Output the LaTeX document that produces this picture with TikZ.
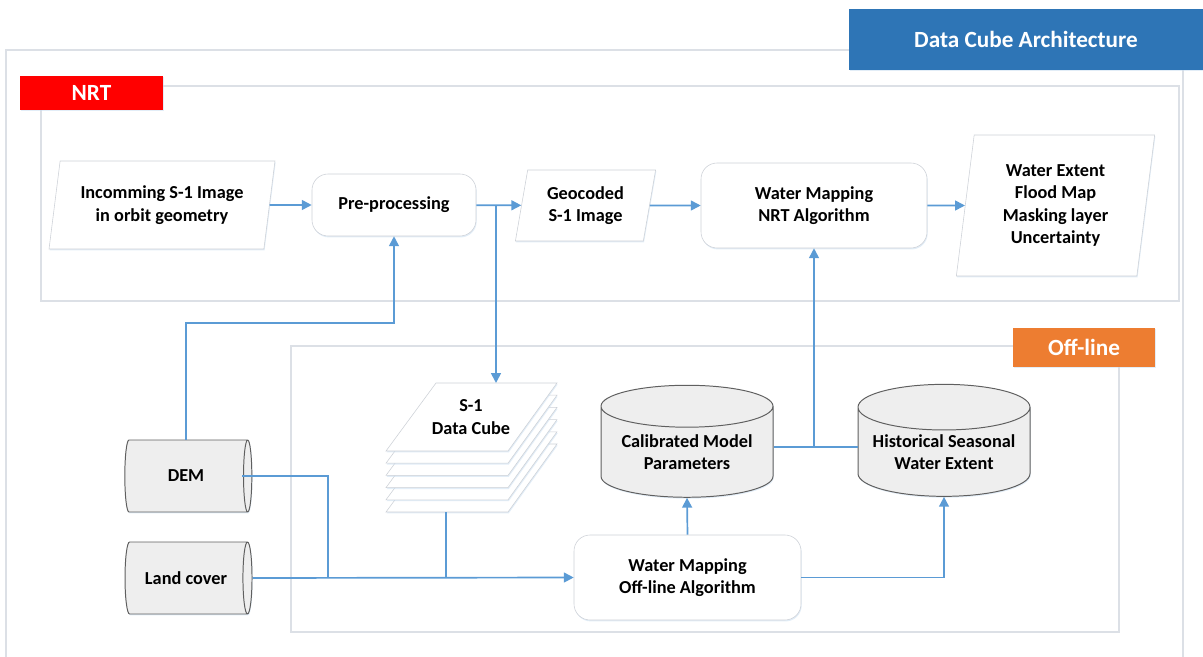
\documentclass[tikz,border=0pt]{standalone}
\usepackage{fontspec}
\setmainfont{Carlito}
\usetikzlibrary{shapes.geometric,arrows.meta,shadows}
\definecolor{lineblue}{RGB}{91,155,213}
\definecolor{titleblue}{RGB}{46,117,182}
\definecolor{nrtred}{RGB}{255,0,0}
\definecolor{offorange}{RGB}{237,125,49}
\definecolor{framegray}{RGB}{220,224,230}
\definecolor{boxgray}{RGB}{205,209,215}
\definecolor{dbfill}{RGB}{238,238,238}
\definecolor{dbline}{RGB}{95,95,95}
\newdimen\px \px=0.025cm
\tikzset{
  every node/.style={font=\bfseries\fontsize{13}{16}\selectfont, align=center, inner sep=0pt},
  frame/.style={draw=framegray, line width=0.8pt},
  shade/.style={drop shadow={shadow xshift=0.5pt, shadow yshift=-1pt, fill=lineblue!35, opacity=0.5}},
  tag/.style={shade, text=white, font=\bfseries\fontsize{16.5}{18}\selectfont},
  proc/.style={shade, draw=boxgray, rounded corners=0.4cm, fill=white},
  data/.style={shade, trapezium, trapezium stretches=true, draw=boxgray, fill=white},
  db/.style={shade, cylinder, draw=dbline, fill=dbfill, line width=0.7pt},
  link/.style={draw=lineblue, line width=1.2pt},
  arr/.style={link, -{Triangle[length=7pt,width=7pt]}}
}
\begin{document}
\begin{tikzpicture}[x=0.025cm,y=-0.025cm]
\useasboundingbox (0,0) rectangle (1203,657);
\draw[frame] (6,657) -- (6,50) -- (1183,50) -- (1183,657);
\draw[frame] (41,86) rectangle (1179,301);
\draw[frame] (291,346) rectangle (1119,632);

\node[tag, fill=titleblue, minimum width=354\px, minimum height=61\px] (title) at (1026,39.5) {Data Cube Architecture};
\node[tag, fill=nrtred, minimum width=143\px, minimum height=34\px] (nrt) at (91.5,93) {NRT};
\node[tag, fill=offorange, minimum width=142\px, minimum height=39\px] (off) at (1084,347.5) {Off-line};

\node[data, trapezium left angle=77, trapezium right angle=103, minimum width=226\px, minimum height=88\px] (in) at (162,205) {Incomming S-1 Image\\in orbit geometry};
\node[proc, minimum width=164\px, minimum height=62\px] (pre) at (394,205) {Pre-processing};
\node[data, trapezium left angle=78, trapezium right angle=102, minimum width=141\px, minimum height=71\px] (geo) at (585.5,205.5) {Geocoded\\S-1 Image};
\node[proc, minimum width=226\px, minimum height=85\px] (wmn) at (814,205.5) {Water Mapping\\NRT Algorithm};
\node[data, trapezium left angle=82, trapezium right angle=98, minimum width=199\px, minimum height=141\px] (out) at (1055.5,205.5) {Water Extent\\Flood Map\\Masking layer\\Uncertainty};

\node[db, aspect=0.7, minimum width=72\px, minimum height=127\px] (dem) at (186,476) {DEM};
\node[db, aspect=0.7, minimum width=72\px, minimum height=127\px] (lc) at (186,578) {Land cover};

\foreach \k in {5,4,...,0}
  \draw[shade, draw=boxgray, fill=white] (436,383+12.2*\k) -- (557,383+12.2*\k) -- (508,451+12.2*\k) -- (386,451+12.2*\k) -- cycle;
\node (cube) at (471,417) {S-1\\Data Cube};
\coordinate (cubetop) at (496,383);
\coordinate (cubebot) at (446,512);

\node[proc, minimum width=227\px, minimum height=85\px] (wmo) at (687.5,577.5) {Water Mapping\\Off-line Algorithm};
\node[db, aspect=0.32, shape border rotate=90, minimum width=172\px, minimum height=112\px] (cal) at (687,452) {Calibrated Model\\Parameters};
\node[db, aspect=0.32, shape border rotate=90, minimum width=172\px, minimum height=112\px] (his) at (944,452) {Historical Seasonal\\Water Extent};

\coordinate (demtop) at (394,323);
\coordinate (fork) at (496,205);

\draw[arr] (in) -- (pre);
\draw[arr] (pre) -- (geo);
\draw[arr] (geo) -- (wmn);
\draw[arr] (wmn) -- (out);
\draw[arr] (fork) -- (cubetop);
\draw[arr] (dem.north) |- (demtop) -- (pre.south);
\draw[link] ([xshift=-0.25cm]dem.east) -| (328,578);
\draw[link] (cubebot) -- (cubebot |- lc.east);
\draw[arr] (lc.east) -- (wmo.west);
\draw[arr] (wmo.north) -- (cal.south);
\draw[link] ([yshift=5\px]cal.east) -- ([yshift=5\px]his.west);
\draw[arr] (wmn.south |- 0,447) -- (wmn.south);
\draw[arr] (wmo.east) -| (his.south);
\end{tikzpicture}
\end{document}
